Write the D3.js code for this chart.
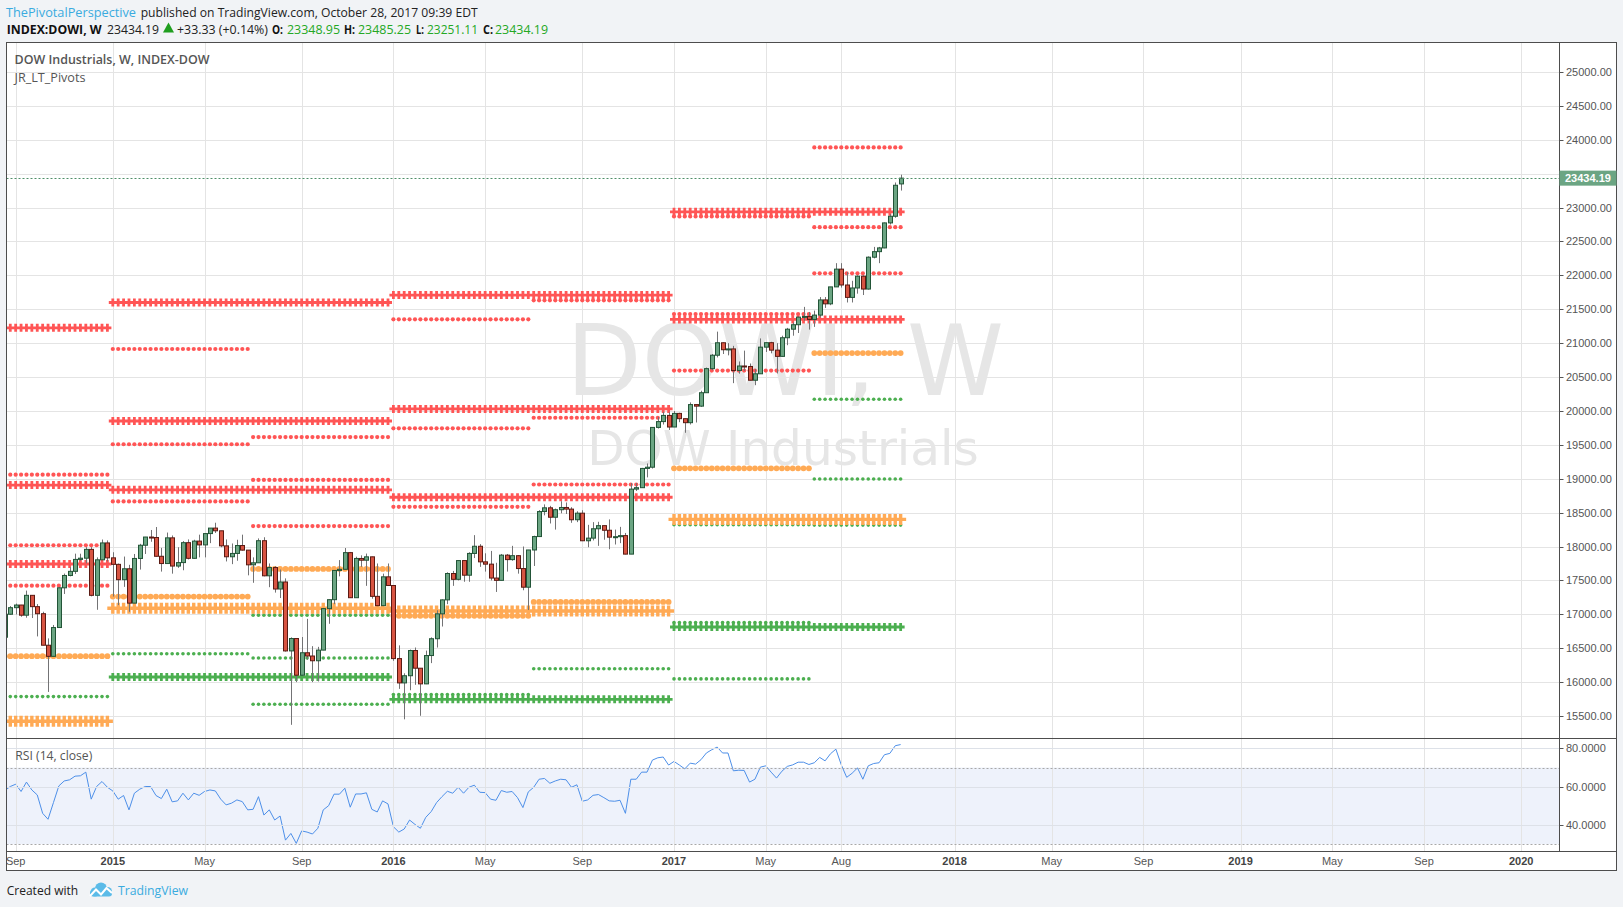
<!DOCTYPE html>
<html><head><meta charset="utf-8">
<script src="https://cdn.jsdelivr.net/npm/d3@7"></script>
<style>html,body{margin:0;padding:0;background:#f1f3f6;}svg{display:block;}</style>
</head><body>
<svg id="c" width="1623" height="907"></svg>
<script>
// ---------------- DATA ----------------
const firstWeek = "2014-08-18", lastWeek = "2017-10-23";
const opens = [16662,17001,17098,17137,16987,17280,17113,17009,16544,16380,16805,17391,17573,17634,17810,17828,17958,17280,17804,18053,
17833,17737,17511,17672,17165,17824,18019,18140,18133,17856,17749,18128,17712,17763,18057,17826,18080,18024,18191,18272,18232,18010,17849,17898,18015,17947,17730,17760,18086,17568,17690,17373,17477,16460,16643,16102,16433,16385,16315,16472,17084,17216,17647,17664,17910,17245,17824,17798,17848,17265,17128,17553,
17425,16347,15988,16094,16466,16205,15974,16392,16640,17007,17213,17602,17516,17793,17577,17898,18004,17774,17740,17535,17501,17873,17807,17865,17675,17400,17949,18147,18516,18571,18432,18543,18576,18552,18395,18492,18085,18124,18262,18308,18240,18138,18145,18161,17888,18847,18868,19152,19170,19757,19843,19934,
19763,19964,19886,19827,20094,20071,20269,20624,20822,21006,20903,20915,20597,20663,20656,20453,20548,20941,21007,20897,20805,21080,21206,21272,21384,21395,21350,21414,21638,21580,21830,22092,21858,21675,21814,21988,21798,22268,22350,22405,22774,22872,23349];
const highs = [17040,17122,17158,17139,17350,17280,17151,17038,16645,16843,17395,17601,17695,17895,17894,17991,17991,17840,18103,18090,
17916,17749,17852,17730,17890,18040,18142,18244,18288,17980,18206,18163,17990,18080,18105,18100,18175,18195,18272,18351,18232,18105,18045,18100,18175,17947,17840,18120,18137,17750,17710,17660,17530,16660,16643,16665,16933,16530,16520,17095,17220,17650,17800,17978,17920,17850,17870,17896,17850,17750,17600,17750,
17425,16542,16130,16480,16510,16205,16465,16660,17060,17220,17620,17640,17800,17793,17916,18168,18035,17900,17935,17760,17890,17890,18010,17875,18000,17950,18160,18537,18622,18600,18560,18668,18650,18580,18520,18535,18320,18360,18365,18310,18400,18250,18290,18200,18935,18935,19160,19225,19760,19912,19988,19980,
19999,19974,19890,20126,20094,20298,20640,20840,21170,21010,21000,20960,20730,20890,20700,20620,21070,21010,21020,21000,21110,21225,21305,21392,21535,21460,21480,21680,21680,21830,22180,22180,22050,21920,22000,22000,22280,22420,22420,22780,22905,23370,23485];
const lows = [16650,16994,16998,16964,16950,16945,16674,16543,15855,16380,16802,17300,17560,17595,17790,17751,17265,17067,17804,17780,
17262,17136,17405,17037,17165,17660,17890,18070,17850,17630,17749,17600,17685,17650,17810,17820,17840,17840,18050,18200,17990,17780,17740,17790,17940,17575,17465,17760,17560,17400,17320,17240,16450,15370,16000,16100,16330,16000,16010,16470,16860,17150,17560,17660,17240,17245,17700,17420,17230,17120,17125,17420,
16314,15900,15451,15880,15960,15503,15970,16280,16510,16820,17150,17420,17500,17480,17480,17830,17700,17630,17500,17330,17500,17630,17790,17600,17355,17063,17713,18140,18460,18340,18250,18490,18480,18350,18360,18080,17990,18090,18010,18100,17960,18030,18050,17884,17888,18820,18868,19020,19150,19740,19800,19719,
19763,19834,19678,19800,19830,20060,20269,20600,20790,20840,20820,20410,20550,20590,20450,20380,20548,20870,20850,20553,20800,20970,21110,21150,21330,21200,21240,21380,21520,21560,21830,21820,21600,21600,21730,21710,21790,22250,22180,22400,22750,22850,23251];
const closes = [17001,17098,17137,16987,17280,17113,17009,16544,16380,16805,17391,17573,17634,17810,17828,17958,17280,17804,18053,17833,
17737,17511,17672,17165,17824,18019,18140,18133,17856,17749,18128,17712,17763,18057,17826,18080,18024,18191,18272,18232,18010,17849,17898,18015,17947,17730,17760,18086,17568,17690,17373,17477,16460,16643,16102,16433,16385,16315,16472,17084,17216,17647,17664,17910,17245,17824,17798,17848,17265,17128,17553,17425,
16347,15988,16094,16466,16205,15974,16392,16640,17007,17213,17602,17516,17793,17577,17898,18004,17774,17740,17535,17501,17873,17807,17865,17675,17400,17949,18147,18516,18571,18432,18543,18576,18552,18395,18492,18085,18124,18262,18308,18240,18138,18145,18161,17888,18847,18868,19152,19170,19757,19843,19934,19763,
19964,19886,19827,20094,20071,20269,20624,20822,21006,20903,20915,20597,20663,20656,20453,20548,20941,21007,20897,20805,21080,21206,21272,21384,21395,21350,21414,21638,21580,21830,22092,21858,21675,21814,21988,21798,22268,22350,22405,22774,22872,23329,23434.19];
const rsiValues = [58,
60.1,61.3,57.5,62.4,58.3,55.7,46.1,43.0,51.7,60.4,63.0,63.6,65.5,65.7,67.6,53.5,60.1,62.7,59.7,57.8,
53.5,55.4,47.9,56.6,58.7,60.1,60.1,55.4,53.8,58.7,52.1,52.6,56.6,53.1,56.6,55.5,57.5,58.3,57.8,53.5,
50.5,51.4,53.1,52.2,47.9,48.2,54.8,45.2,47.9,42.6,44.7,32.1,35.6,30.4,36.9,36.3,35.3,38.3,47.9,50.1,
56.1,56.1,59.2,49.3,56.2,56.2,56.8,48.2,46.8,52.6,51.0,39.1,36.3,37.9,42.6,40.3,38.3,44.0,47.0,51.7,
54.8,57.6,56.6,59.7,56.6,59.7,60.8,57.1,56.9,53.5,52.9,58.0,57.1,57.5,54.3,49.1,57.3,59.7,63.9,64.3,
61.8,63.0,63.9,63.6,59.7,61.0,52.4,53.1,55.5,55.9,54.3,52.6,52.4,52.9,46.1,63.9,63.9,67.6,67.6,73.9,
75.1,75.5,71.3,73.2,71.3,69.3,72.3,71.8,74.1,77.6,79.3,80.7,77.6,77.6,68.3,68.6,68.5,62.4,63.9,70.2,
70.9,67.6,64.5,68.1,70.6,71.4,
72.8,72.8,71.6,72.5,75.3,73.5,77.2,79.6,71.4,64.9,67.0,69.8,63.9,70.9,72.1,72.5,76.7,77.4,81.4,82.0];

// yearly pivots (crosses)
const yearlyPeriods = ["2014","2015","2016","2017"];
const yearlyR3 = [21226,21600,21709,25887];
const yearlyR2 = [18907,19852,20030,22937];
const yearlyR1 = [17742,18837,18727,21350];
const yearlyP  = [15423,17089,17049,18400];
const yearlyS1 = [14258,16075,15746,16813];
const yearlyS2 = [11939,14326,14068,13863];
// half-year pivots (circles)
const halfPeriods = ["2014-H2","2015-H1","2015-H2","2016-H1","2016-H2","2017-H1","2017-H2"];
const halfR3 = [19060,20914,19615,21351,21632,22870,23888];
const halfR2 = [18019,19509,18983,19744,19900,21429,22711];
const halfR1 = [17423,18666,18301,18585,18915,20596,22030];
const halfP  = [16382,17261,17670,16977,17183,19154,20854];
const halfS1 = [15786,16418,16988,15818,16198,18321,20173];
const halfS2 = [14744,15012,16356,14211,14466,16880,18997];
const halfS3 = [14149,14169,15673,13050,13481,16047,18316];

const priceTicks = [15500,16000,16500,17000,17500,18000,18500,19000,19500,20000,20500,21000,21500,22000,22500,23000,23500,24000,24500,25000];
const rsiTicks = [40,60,80];
const timeTickDates = ["2014-09-01","2015-01-05","2015-05-04","2015-09-07","2016-01-04","2016-05-02","2016-09-05","2017-01-02","2017-05-01","2017-08-07","2018-01-01","2018-05-07","2018-09-03","2019-01-07","2019-05-06","2019-09-02","2020-01-06"];
const timeTickLabels = ["Sep","2015","May","Sep","2016","May","Sep","2017","May","Aug","2018","May","Sep","2019","May","Sep","2020"];
const lastPrice = 23434.19;

// ---------------- LAYOUT ----------------
const W=1623,H=907;
const L=6.5, R=1559.5, T=42.5, mainB=738.5, rsiB=851.5, axB=870.5, FR=1616.5;
const parse = d3.utcParse("%Y-%m-%d");
const svg = d3.select("#c");
const dates = d3.utcMonday.range(parse(firstWeek), d3.utcDay.offset(parse(lastWeek),1));
const bars = dates.map((d,i)=>({d, o:opens[i], h:highs[i], l:lows[i], c:closes[i], r:rsiValues[i]}));

const x = d3.scaleUtc().domain([parse("2015-01-05"), parse("2020-01-06")]).range([112.8, 1521.2]);
const y = d3.scaleLinear().domain([15500,25000]).range([716,72]);
const yr = d3.scaleLinear().domain([40,80]).range([825,748.4]);

svg.append("rect").attr("width",W).attr("height",H).attr("fill","#f1f3f6");
svg.append("rect").attr("x",L).attr("y",T).attr("width",FR-L).attr("height",axB-T).attr("fill","#fff");

const defs = svg.append("defs");
defs.append("clipPath").attr("id","mclip").append("rect").attr("x",L).attr("y",T).attr("width",R-L).attr("height",mainB-T);
defs.append("clipPath").attr("id","rclip").append("rect").attr("x",L).attr("y",mainB).attr("width",R-L).attr("height",rsiB-mainB);

const gridC = "#e4e4e4";
// RSI band
const rsiG = svg.append("g").attr("clip-path","url(#rclip)");
rsiG.append("rect").attr("x",L).attr("width",R-L).attr("y",yr(70)).attr("height",yr(30)-yr(70)).attr("fill","#eef2fb");

// grids
const grid = svg.append("g");
const tickDates = timeTickDates.map(parse);
tickDates.forEach(d=>{
  const xx = Math.round(x(d))+0.5;
  grid.append("line").attr("x1",xx).attr("x2",xx).attr("y1",T).attr("y2",rsiB).attr("stroke",gridC);
});
priceTicks.forEach(v=>{
  const yy = Math.round(y(v))+0.5;
  grid.append("line").attr("x1",L).attr("x2",R).attr("y1",yy).attr("y2",yy).attr("stroke",gridC);
});
rsiTicks.forEach(v=>{
  const yy = Math.round(yr(v))+0.5;
  grid.append("line").attr("x1",L).attr("x2",R).attr("y1",yy).attr("y2",yy).attr("stroke","#dde1e8");
});
[70,30].forEach(v=>{
  const yy = Math.round(yr(v))+0.5;
  grid.append("line").attr("x1",L).attr("x2",R).attr("y1",yy).attr("y2",yy).attr("stroke","#a8a8a8").attr("stroke-dasharray","2,2");
});

// main pane
const mg = svg.append("g").attr("clip-path","url(#mclip)");
mg.append("text").attr("x",785).attr("y",395).attr("text-anchor","middle")
  .attr("font-family","DejaVu Sans, sans-serif").attr("font-size",98).attr("fill","#e6e6e6").text("DOWI, W");
mg.append("text").attr("x",783).attr("y",465).attr("text-anchor","middle")
  .attr("font-family","DejaVu Sans, sans-serif").attr("font-size",48.5).attr("fill","#e6e6e6").text("DOW Industrials");

const RED="#ff5555", ORG="#ffaa55", GRN="#4caf50";
function periodBars(p){
  let s,e;
  if(p.length===4){ s=parse(p+"-01-01"); e=parse(p+"-12-31"); }
  else { const yv=p.slice(0,4); if(p.endsWith("H1")){s=parse(yv+"-01-01"); e=parse(yv+"-06-30");} else {s=parse(yv+"-07-01"); e=parse(yv+"-12-31");} }
  return bars.filter(b=>b.d>=s && b.d<=e);
}
// half-year circles
const halfLevels = [[halfR3,RED,2.1],[halfR2,RED,2.1],[halfR1,RED,2.1],[halfS1,GRN,1.8],[halfS2,GRN,1.8],[halfS3,GRN,1.8],[halfP,ORG,2.9]];
const dotG = mg.append("g");
halfPeriods.forEach((p,pi)=>{
  const pb = periodBars(p);
  halfLevels.forEach(([arr,col,r])=>{
    const yy = y(arr[pi]);
    pb.forEach(b=>{ dotG.append("circle").attr("cx",x(b.d)).attr("cy",yy).attr("r",r).attr("fill",col); });
  });
});
// yearly crosses
const yearLevels = [[yearlyR3,RED,4,2.8],[yearlyR2,RED,4,2.8],[yearlyR1,RED,4,2.8],[yearlyS1,GRN,4,2.8],[yearlyS2,GRN,4,2.8],[yearlyP,ORG,5.5,3.4]];
const crossG = mg.append("g");
yearlyPeriods.forEach((p,pi)=>{
  const pb = periodBars(p);
  yearLevels.forEach(([arr,col,h,sw])=>{
    const yy = y(arr[pi]);
    const d = pb.map(b=>{const xx=x(b.d); return `M${xx-h},${yy}H${xx+h}M${xx},${yy-h}V${yy+h}`;}).join("");
    crossG.append("path").attr("d",d).attr("stroke",col).attr("stroke-width",sw).attr("fill","none");
  });
});

// candles
const cg = mg.append("g");
bars.forEach(b=>{
  const rc = Math.round(x(b.d));
  const up = b.c>=b.o;
  cg.append("line").attr("x1",rc+0.5).attr("x2",rc+0.5).attr("y1",y(b.h)).attr("y2",y(b.l)).attr("stroke","#737375");
  const y0=y(Math.max(b.o,b.c)), y1=y(Math.min(b.o,b.c));
  cg.append("rect").attr("x",rc-1.5).attr("width",4).attr("y",y0).attr("height",Math.max(1,y1-y0))
    .attr("fill",up?"#6ba583":"#d75442").attr("stroke",up?"#225437":"#5b1a13").attr("stroke-width",1);
});
// last price line
const ly = Math.round(y(lastPrice))+0.5;
mg.append("line").attr("x1",L).attr("x2",R).attr("y1",ly).attr("y2",ly).attr("stroke","#4f8f68").attr("stroke-dasharray","2,2");

// RSI line
rsiG.append("path").datum(bars).attr("fill","none").attr("stroke","#4d8fe8").attr("stroke-width",1)
  .attr("d",d3.line().x(b=>x(b.d)).y(b=>yr(b.r)));

// frame
const fr = svg.append("g").attr("stroke","#4d4d4d").attr("fill","none");
fr.append("rect").attr("x",L).attr("y",T).attr("width",FR-L).attr("height",axB-T);
fr.append("line").attr("x1",L).attr("x2",FR).attr("y1",mainB).attr("y2",mainB);
fr.append("line").attr("x1",L).attr("x2",FR).attr("y1",rsiB).attr("y2",rsiB);
fr.append("line").attr("x1",R).attr("x2",R).attr("y1",T).attr("y2",rsiB);

// price axis (labels hidden where the last-price label covers them)
const ax = svg.append("g").attr("font-family","Liberation Sans, Arial, sans-serif").attr("font-size",11).attr("fill","#555");
priceTicks.forEach(v=>{
  const yy=y(v);
  ax.append("line").attr("x1",R).attr("x2",R+4).attr("y1",Math.round(yy)+0.5).attr("y2",Math.round(yy)+0.5).attr("stroke","#555");
  if (Math.abs(yy - y(lastPrice)) < 12) return;
  ax.append("text").attr("x",1566).attr("y",yy).attr("dominant-baseline","central").text(d3.format(".2f")(v));
});
rsiTicks.forEach(v=>{
  const yy=yr(v);
  ax.append("line").attr("x1",R).attr("x2",R+4).attr("y1",Math.round(yy)+0.5).attr("y2",Math.round(yy)+0.5).attr("stroke","#555");
  ax.append("text").attr("x",1566).attr("y",yy).attr("dominant-baseline","central").text(d3.format(".4f")(v));
});
// last price label
svg.append("rect").attr("x",R).attr("y",y(lastPrice)-7.5).attr("width",FR-R).attr("height",15).attr("fill","#6ba583");
svg.append("text").attr("x",1565).attr("y",y(lastPrice)).attr("dominant-baseline","central")
  .attr("font-family","Liberation Sans, Arial, sans-serif").attr("font-size",11).attr("font-weight","bold").attr("fill","#fff").text(d3.format(".2f")(lastPrice));

// time axis
tickDates.forEach((d,i)=>{
  const lab = timeTickLabels[i];
  const isYear = /^\d{4}$/.test(lab);
  svg.append("text").attr("x",x(d)).attr("y",861).attr("text-anchor","middle").attr("dominant-baseline","central")
    .attr("font-family","Liberation Sans, Arial, sans-serif").attr("font-size",11)
    .attr("font-weight",isYear?"bold":"normal").attr("fill",isYear?"#444":"#555").text(lab);
});

// texts
function txt(s,xx,yy,o){
  const t=svg.append("text").attr("x",xx).attr("y",yy).text(s)
    .attr("font-family",o.ff||"Open Sans, sans-serif").attr("font-size",o.fs||13).attr("fill",o.fill||"#333");
  if(o.fw) t.attr("font-weight",o.fw);
  if(o.w) t.attr("textLength",o.w).attr("lengthAdjust","spacingAndGlyphs");
  return t;
}
const GV="#24a824";
txt("ThePivotalPerspective",6,16.5,{fill:"#3aabdf",w:130});
txt("published on TradingView.com, October 28, 2017 09:39 EDT",140.7,16.5,{fill:"#222",w:337});
txt("INDEX:DOWI, W",6.7,33.5,{fw:"bold",fill:"#111",w:95});
txt("23434.19",107,33.5,{fill:"#222",w:52});
svg.append("path").attr("d","M163,32.5L174,32.5L168.5,22.5Z").attr("fill","#1f9e1f");
txt("+33.33 (+0.14%)",177,33.5,{fill:"#222",w:91});
[["O:",272,11],["H:",344,11],["L:",416,8],["C:",483,10]].forEach(([s,xx,w])=>txt(s,xx,33.5,{fw:"bold",fill:"#111",w}));
[["23348.95",287,53],["23485.25",358,53],["23251.11",427,51],["23434.19",495,53]].forEach(([s,xx,w])=>txt(s,xx,33.5,{fill:GV,w}));

txt("DOW Industrials, W, INDEX-DOW",14.5,64,{fw:"600",fs:12.5,fill:"#555",w:195});
txt("JR_LT_Pivots",14.5,81.5,{fs:12,fill:"#555",w:71});
txt("RSI (14, close)",15.3,759.5,{fs:12,fill:"#555",w:77});

// footer
txt("Created with",6.7,894.5,{fs:13,fill:"#222",w:71.5});
const logo = svg.append("g");
logo.append("circle").attr("cx",95).attr("cy",892).attr("r",4.5).attr("fill","#5bbbe8");
logo.append("circle").attr("cx",101).attr("cy",888.5).attr("r",6).attr("fill","#5bbbe8");
logo.append("circle").attr("cx",107.5).attr("cy",891.5).attr("r",4.5).attr("fill","#5bbbe8");
logo.append("rect").attr("x",90).attr("y",890).attr("width",22).attr("height",6.5).attr("rx",3).attr("fill","#5bbbe8");
logo.append("path").attr("d","M90,896 L96,889.5 L101,894.5 L106.5,888 L112,893").attr("stroke","#fff").attr("stroke-width",2).attr("fill","none");
txt("TradingView",118,894.5,{fs:13,fill:"#3aabdf",w:70});
</script>
</body></html>
